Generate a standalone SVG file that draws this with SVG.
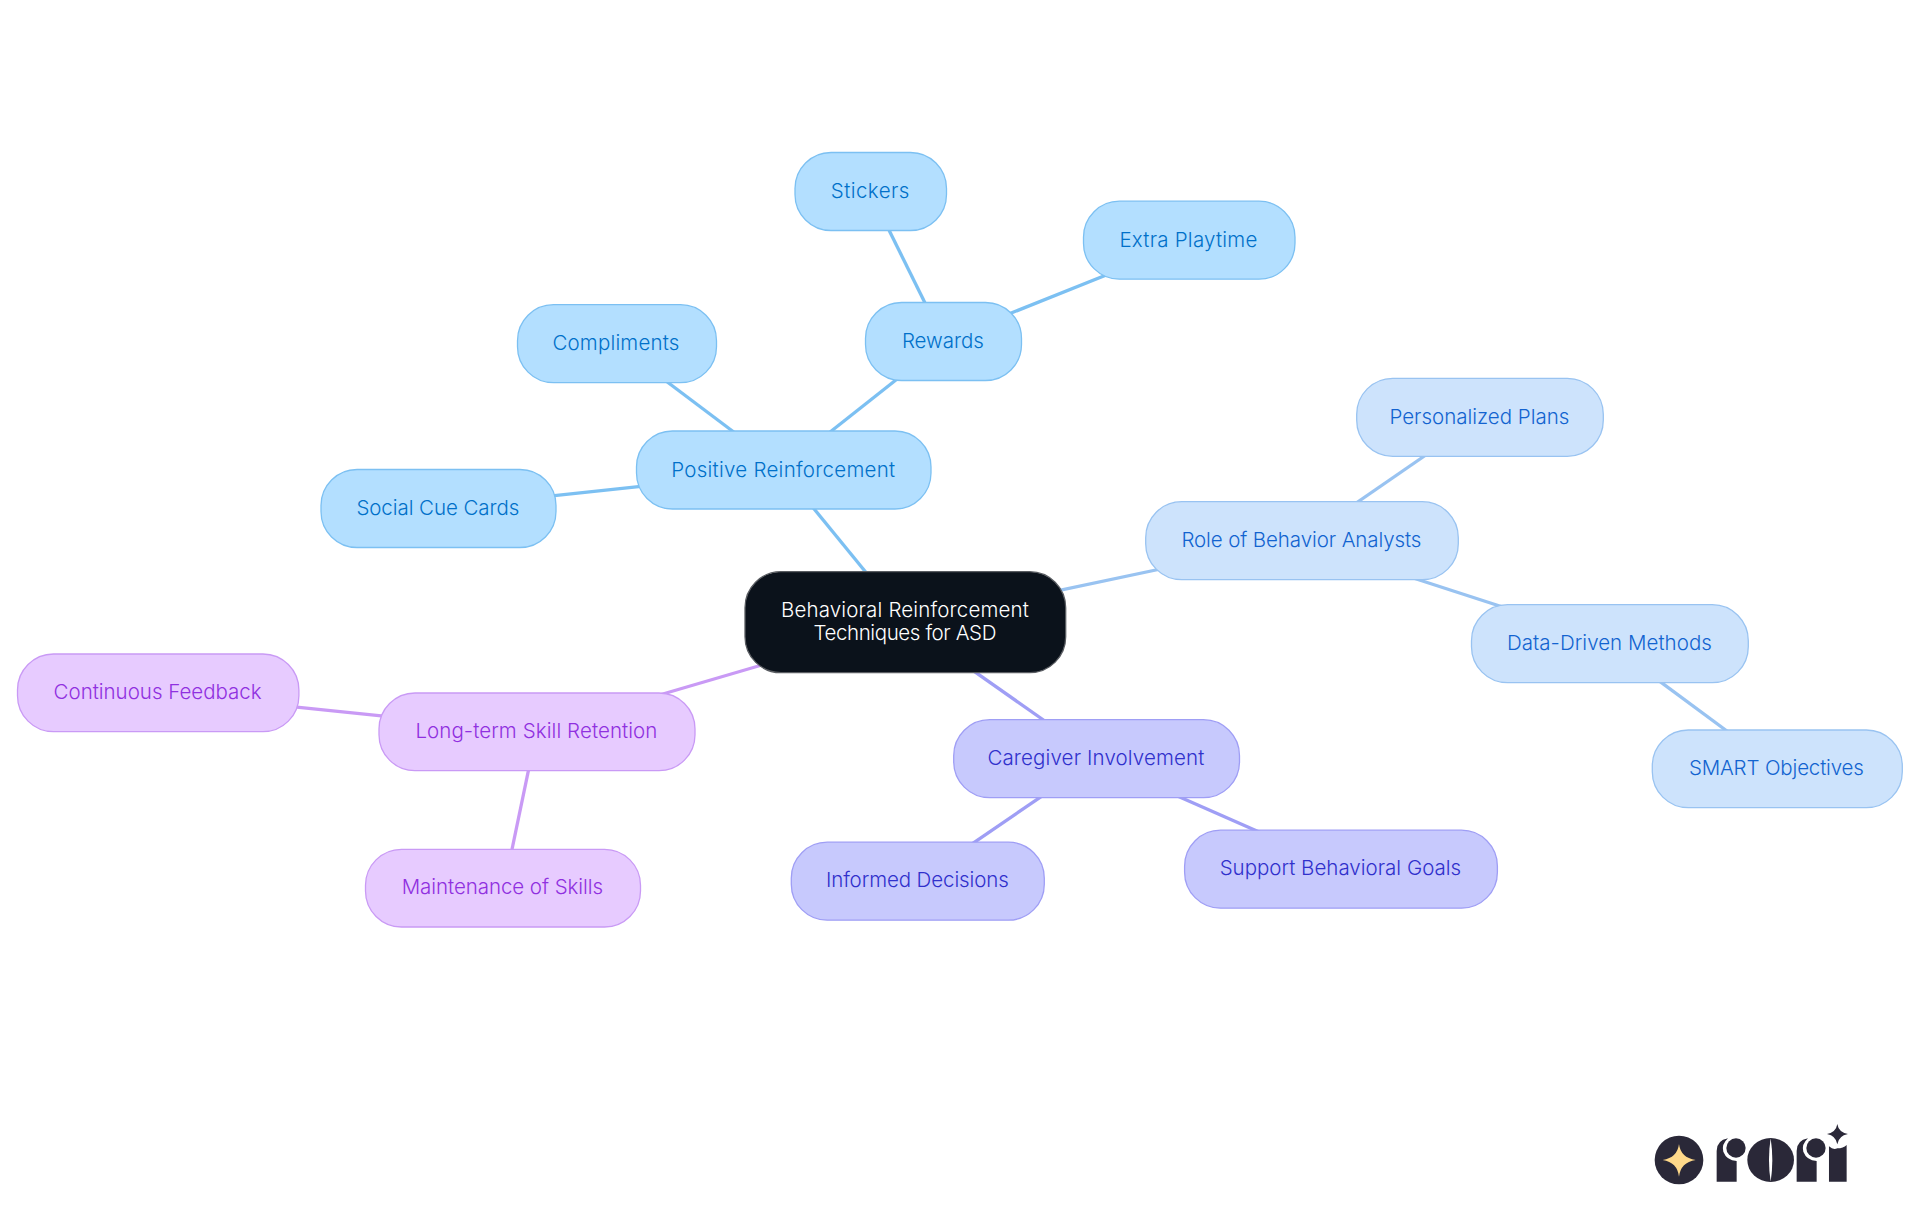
<svg xmlns="http://www.w3.org/2000/svg" width="1920" height="1215" viewBox="0 0 1920 1215">
<style>
text{font-family:"Inter","Noto Sans","Liberation Sans",sans-serif;font-size:20.5px;font-weight:360;text-anchor:middle;transform:translateX(-.6px)}
rect{stroke-width:1.3}
line{stroke-width:3.3;fill:none}
.a rect{fill:#b3dfff;stroke:#7cc0f2}.a text{fill:#0070c9}
.b rect{fill:#cde3fc;stroke:#99c3f1}.b text{fill:#1263d0}
.c rect{fill:#c7c9fd;stroke:#9f9ef5}.c text{fill:#3030cc}
.d rect{fill:#e7cbff;stroke:#c99af5}.d text{fill:#9030e0}
.r rect{fill:#0b121b;stroke:#5a5d62}.r text{fill:#fff}
.la{stroke:#7cc0f2}.lb{stroke:#99c3f1}.lc{stroke:#9f9ef5}.ld{stroke:#c99af5}
.logo{fill:#2a2838}
</style>
<rect width="1920" height="1215" fill="#fff" style="stroke:none"/>
<g id="connectors">
<line class="la" x1="806" y1="499" x2="873" y2="581"/>
<line class="lb" x1="1050" y1="592.4" x2="1170" y2="567"/>
<line class="lc" x1="966" y1="665.6" x2="1052" y2="726"/>
<line class="ld" x1="780" y1="659.7" x2="656" y2="696"/>
<line class="la" x1="820" y1="440" x2="906" y2="372"/>
<line class="la" x1="658" y1="375" x2="743" y2="439"/>
<line class="la" x1="545" y1="496.7" x2="648" y2="485.7"/>
<line class="la" x1="885" y1="222" x2="929" y2="311"/>
<line class="la" x1="1000" y1="317.5" x2="1115" y2="271.5"/>
<line class="lb" x1="1346" y1="510" x2="1436" y2="448"/>
<line class="lb" x1="1404" y1="575" x2="1512" y2="610"/>
<line class="lb" x1="1652" y1="675.6" x2="1735" y2="737"/>
<line class="lc" x1="1050" y1="790.6" x2="964" y2="849.3"/>
<line class="lc" x1="1170" y1="792.8" x2="1266" y2="835"/>
<line class="ld" x1="287" y1="706.2" x2="391" y2="716.8"/>
<line class="ld" x1="530.4" y1="761" x2="510" y2="859"/>
</g>
<g id="root" class="r"><rect x="745" y="571.7" width="320.7" height="101" rx="36"/><text x="905.5" y="616.8" textLength="248">Behavioral Reinforcement</text><text x="905.5" y="639.6" textLength="183">Techniques for ASD</text></g>
<g id="positive" class="a"><rect x="636.5" y="431" width="294.5" height="78" rx="36"/><text x="783.8" y="476.5" textLength="224">Positive Reinforcement</text></g>
<g id="compliments" class="a"><rect x="517.5" y="304.7" width="199" height="78" rx="36"/><text x="616.5" y="349.7" textLength="127">Compliments</text></g>
<g id="social" class="a"><rect x="321" y="469.5" width="235" height="78" rx="36"/><text x="438.5" y="514.7" textLength="163">Social Cue Cards</text></g>
<g id="rewards" class="a"><rect x="865.5" y="302.5" width="156" height="78" rx="36"/><text x="943.5" y="347.7" textLength="82">Rewards</text></g>
<g id="stickers" class="a"><rect x="795" y="152.5" width="151.5" height="78" rx="36"/><text x="870.7" y="197.7" textLength="78.5">Stickers</text></g>
<g id="extra" class="a"><rect x="1083.5" y="201.2" width="211.5" height="78" rx="36"/><text x="1189" y="246.5" textLength="138">Extra Playtime</text></g>
<g id="role" class="b"><rect x="1145.7" y="501.7" width="312.6" height="78" rx="36"/><text x="1302" y="546.7" textLength="240">Role of Behavior Analysts</text></g>
<g id="personalized" class="b"><rect x="1356.7" y="378.3" width="246.6" height="78" rx="36"/><text x="1480" y="423.5" textLength="180">Personalized Plans</text></g>
<g id="data" class="b"><rect x="1471.5" y="604.7" width="276.8" height="78" rx="36"/><text x="1610" y="649.7" textLength="205">Data-Driven Methods</text></g>
<g id="smart" class="b"><rect x="1652.3" y="730" width="250" height="77.7" rx="36"/><text x="1777" y="775" textLength="175">SMART Objectives</text></g>
<g id="caregiver" class="c"><rect x="953.7" y="719.7" width="285.8" height="78" rx="36"/><text x="1096.5" y="764.7" textLength="217">Caregiver Involvement</text></g>
<g id="informed" class="c"><rect x="791.3" y="842.2" width="253" height="78" rx="36"/><text x="918" y="887.2" textLength="183">Informed Decisions</text></g>
<g id="support" class="c"><rect x="1184.6" y="830.2" width="312.8" height="78" rx="36"/><text x="1341" y="875.2" textLength="241.5">Support Behavioral Goals</text></g>
<g id="longterm" class="d"><rect x="379" y="693" width="316" height="77.7" rx="36"/><text x="537" y="738" textLength="242">Long-term Skill Retention</text></g>
<g id="continuous" class="d"><rect x="17.5" y="654" width="281.4" height="77.7" rx="36"/><text x="158.2" y="699" textLength="208">Continuous Feedback</text></g>
<g id="maintenance" class="d"><rect x="365.5" y="849.3" width="275" height="77.7" rx="36"/><text x="503" y="894.3" textLength="201.5">Maintenance of Skills</text></g>
<g id="logo" transform="translate(1630 1105) scale(.3333)">
<circle class="logo" cx="147" cy="165" r="73"/>
<path fill="#ffd98a" d="M147 117Q152 158 197 165Q152 172 147 215Q142 172 98 165Q142 158 147 117Z"/>
<path class="logo" d="M260 230V138Q260 106 294 100Q274 118 280 140Q290 166 320 168V230Z"/>
<circle class="logo" cx="318" cy="129" r="29"/>
<ellipse class="logo" cx="422" cy="165" rx="70" ry="66"/>
<path fill="#fff" d="M422 100Q432 165 422 230Q412 165 422 100Z"/>
<path class="logo" d="M500 230V138Q500 106 534 100Q514 118 520 140Q530 166 560 168V230Z"/>
<circle class="logo" cx="558" cy="129" r="29"/>
<path class="logo" d="M597 230V124Q610 136 622 130Q640 130 650 120V230Z"/>
<path class="logo" d="M622 57Q626 82 654 87Q626 92 622 118Q618 92 591 87Q618 82 622 57Z"/>
</g>
</svg>
